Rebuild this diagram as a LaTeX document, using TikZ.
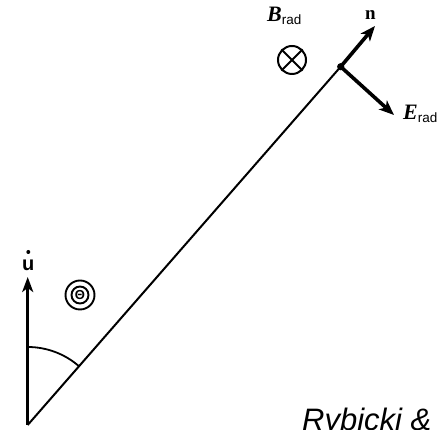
\documentclass[tikz,border=0pt]{standalone}
\usepackage{fontspec}
\setmainfont{Liberation Serif}
\setsansfont{Liberation Sans}
\usetikzlibrary{arrows.meta}
\begin{document}
\begin{tikzpicture}[x=1pt,y=1pt,
  vec/.style={line width=3.6pt,-{Stealth[length=15pt,width=12pt,inset=4pt]}},
  thin line/.style={line width=2pt},
  lbl/.style={inner sep=0pt}]
\useasboundingbox (0,0) rectangle (439,430);
\clip (0,0) rectangle (439,430);
% points
\coordinate (O) at (27.7,5);
\coordinate (U) at (27.7,153);
\coordinate (D) at (340.7,363.3);
\coordinate (N) at (375,404);
\coordinate (E) at (394,315);
% main line
\draw[thin line] (O) -- (D);
\fill (D) circle (3.6pt);
% vectors
\draw[vec,line width=3.2pt,-{Stealth[length=15pt,width=11pt,inset=4pt]}] (O) -- (U);
\draw[vec] (D) -- (N);
\draw[vec] (D) -- (E);
% angle arc
\draw[line width=1.8pt] (27.7,83) arc[start angle=90,end angle=48.9,radius=78];
% labels
\node[lbl,anchor=base] (ulbl) at (28.3,159) {\fontsize{20}{20}\selectfont\sffamily\bfseries u};
\fill (28.3,178) circle (2pt);
\node[lbl,anchor=base] (nlbl) at (370.5,410.5) {\fontsize{19}{19}\selectfont\textbf{n}};
\node[lbl,anchor=base west] (Blbl) at (267,408) {\fontsize{22}{22}\selectfont\textbf{\textit{B}}\raisebox{-3pt}{\fontsize{13.5}{13.5}\sffamily rad}};
\node[lbl,anchor=base west] (Elbl) at (403,310) {\fontsize{22}{22}\selectfont\textbf{\textit{E}}\raisebox{-3pt}{\fontsize{13.5}{13.5}\sffamily rad}};
% B into page symbol
\node[circle,draw,line width=2pt,minimum size=28pt,inner sep=0pt] (Bsym) at (292,370) {};
\draw[line width=2pt] (Bsym.45) -- (Bsym.225) (Bsym.135) -- (Bsym.315);
% Theta
\node[circle,draw,line width=1.9pt,minimum size=29pt,inner sep=0pt] (Tho) at (80,135) {};
\node[circle,draw,line width=1.9pt,minimum size=17pt,inner sep=0pt] (Thi) at (Tho) {};
\node[lbl] (Th) at (Tho) {\fontsize{13}{13}\selectfont\sffamily\bfseries Θ};
% citation
\node[lbl,anchor=base west] (cite) at (302,-0.5) {\fontsize{31}{31}\selectfont\sffamily\itshape Rybicki \&};
\end{tikzpicture}
\end{document}
